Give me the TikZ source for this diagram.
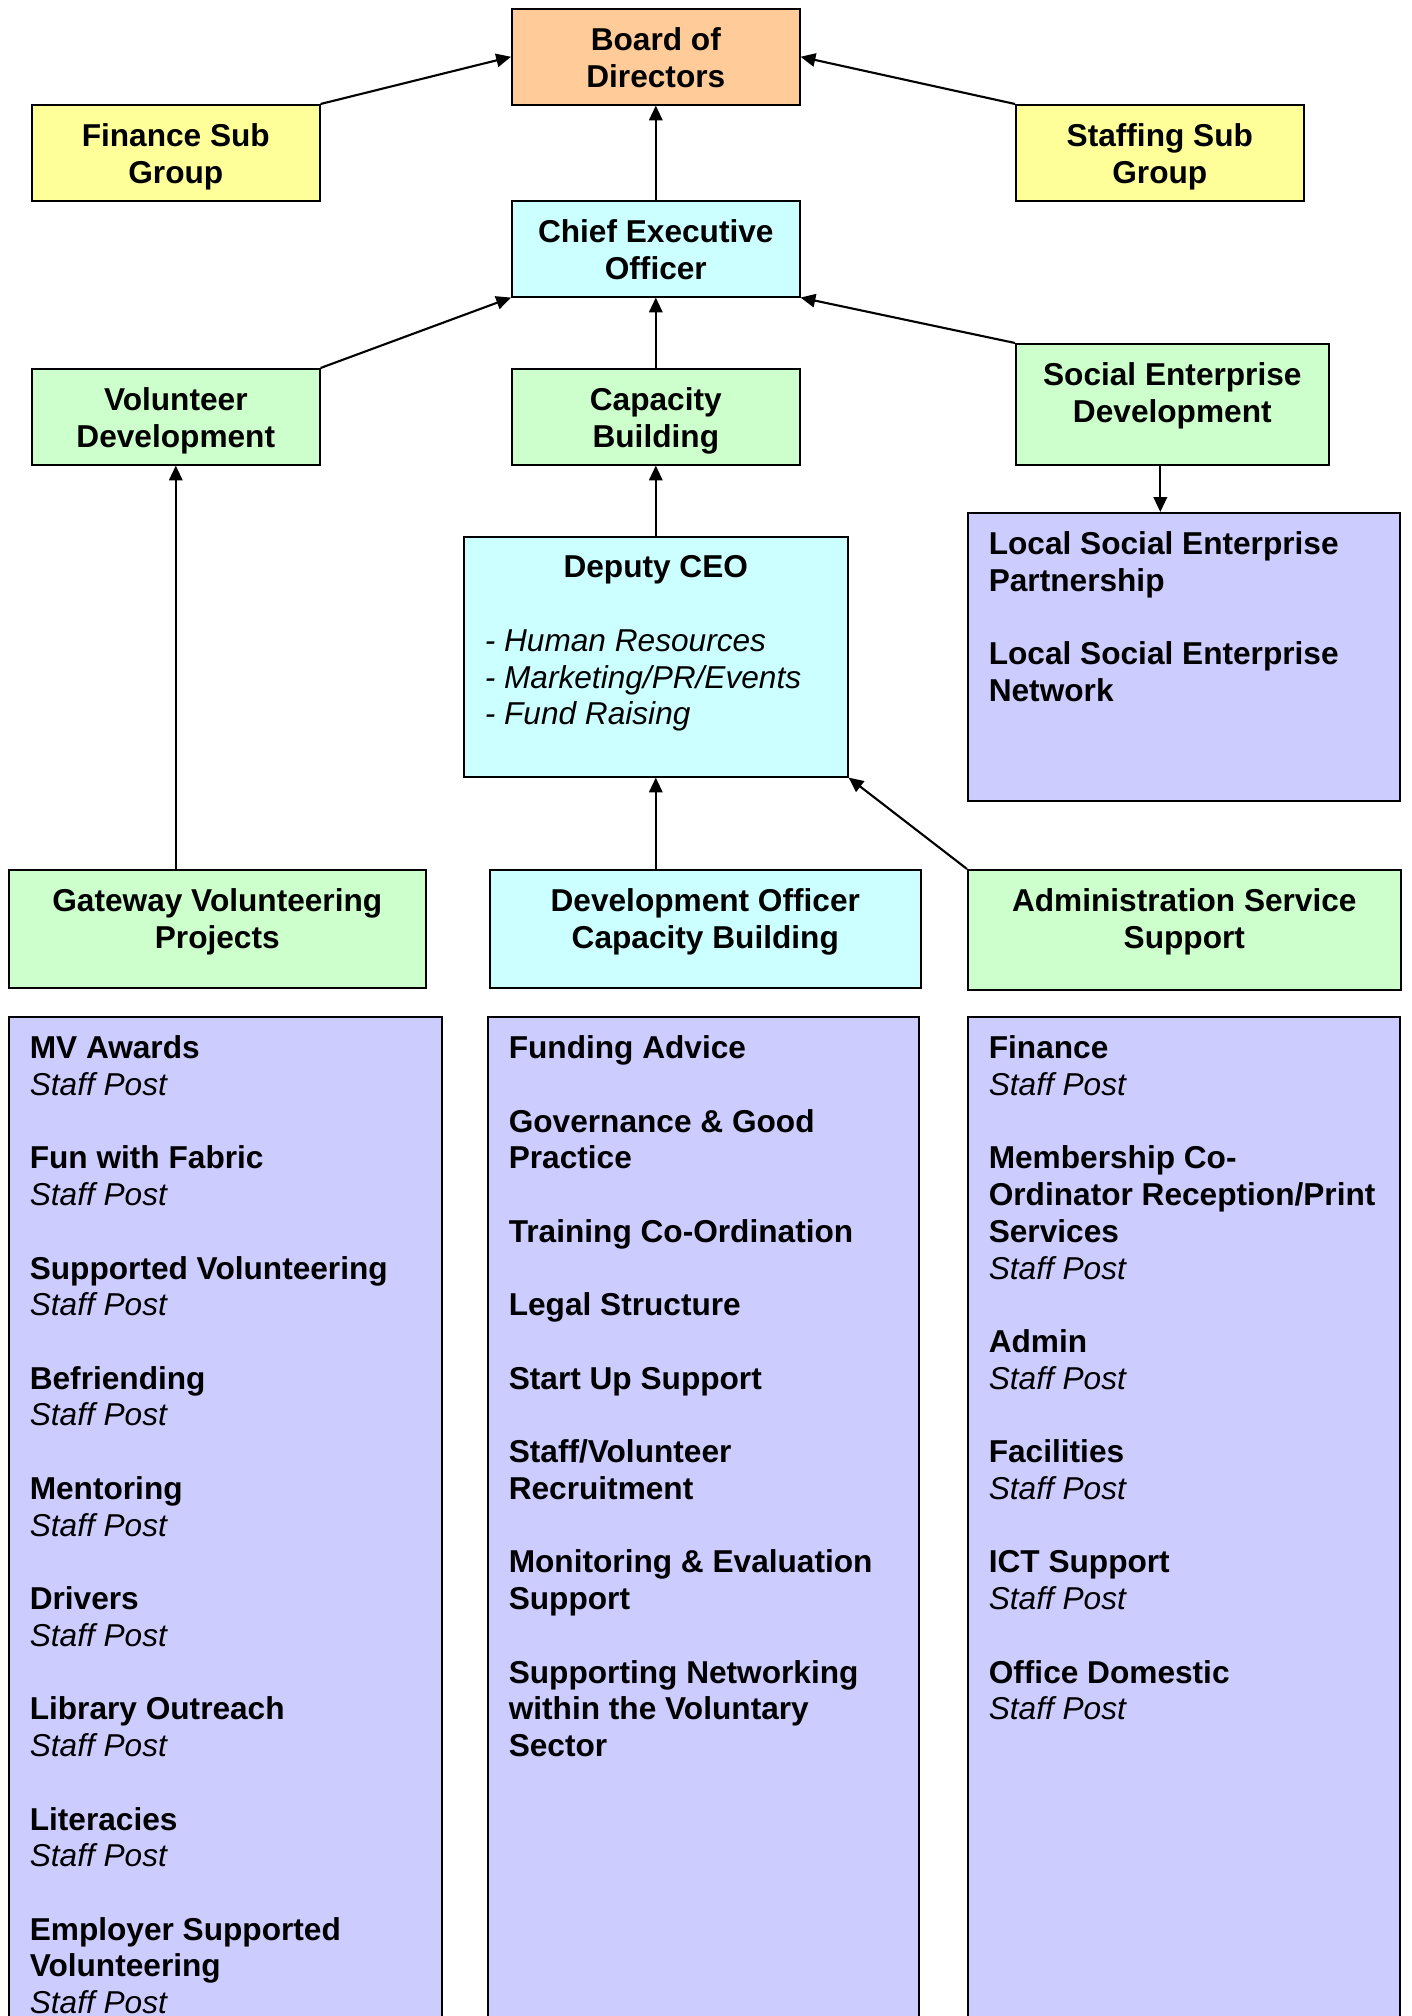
\documentclass[tikz,border=0pt]{standalone}
\usepackage{fontspec}
\setmainfont{Liberation Sans}
\usetikzlibrary{arrows.meta}
\definecolor{boardorange}{HTML}{FFCC99}
\definecolor{subyellow}{HTML}{FFFF99}
\definecolor{execcyan}{HTML}{CCFFFF}
\definecolor{teamgreen}{HTML}{CCFFCC}
\definecolor{postlilac}{HTML}{CCCCFF}
\newcommand{\boxtext}[3]{\parbox[t][#2][t]{#1}{#3}}
\newcommand{\staffpost}{\textmd{\textit{Staff Post}}}

\begin{document}
\begin{tikzpicture}[
  orgbox/.style={draw, line width=0.45pt, anchor=north west, inner xsep=0.21cm, inner ysep=0.19cm,
    font=\fontsize{9}{10.45}\selectfont\bfseries},
  arr/.style={line width=0.6pt, -{Triangle[length=4.2pt,width=3.8pt]}}
]
\useasboundingbox (0,0) rectangle (14.11,-20.16);

% Board and sub groups
\node[orgbox, fill=boardorange] (board) at (5.11,-0.08) {\boxtext{2.46cm}{0.58cm}{\centering Board of\\Directors}};
\node[orgbox, fill=subyellow] (finsub) at (0.31,-1.04) {\boxtext{2.46cm}{0.58cm}{\centering Finance Sub\\Group}};
\node[orgbox, fill=subyellow] (stafsub) at (10.15,-1.04) {\boxtext{2.46cm}{0.58cm}{\centering Staffing Sub\\Group}};
\node[orgbox, fill=execcyan] (ceo) at (5.11,-2.00) {\boxtext{2.46cm}{0.58cm}{\centering Chief Executive\\Officer}};

% Development teams
\node[orgbox, fill=teamgreen] (voldev) at (0.31,-3.68) {\boxtext{2.46cm}{0.58cm}{\centering Volunteer\\Development}};
\node[orgbox, fill=teamgreen] (capbld) at (5.11,-3.68) {\boxtext{2.46cm}{0.58cm}{\centering Capacity\\Building}};
\node[orgbox, fill=teamgreen] (sedev) at (10.15,-3.43) {\boxtext{2.71cm}{0.83cm}{\centering Social Enterprise\\Development}};

\node[orgbox, fill=execcyan] (deputy) at (4.63,-5.36) {\boxtext{3.42cm}{2.02cm}{{\centering Deputy CEO\par}\vspace{\baselineskip}
  {\raggedright\mdseries\itshape - Human Resources\\- Marketing/PR/Events\\- Fund Raising\par}}};
\node[orgbox, fill=postlilac] (lse) at (9.67,-5.12) {\boxtext{3.90cm}{2.50cm}{\raggedright Local Social Enterprise\\Partnership\\[\baselineskip]Local Social Enterprise\\Network}};

% Service level
\node[orgbox, fill=teamgreen] (gateway) at (0.08,-8.69) {\boxtext{3.75cm}{0.80cm}{\centering Gateway Volunteering\\Projects}};
\node[orgbox, fill=execcyan] (devoff) at (4.89,-8.69) {\boxtext{3.89cm}{0.80cm}{\centering Development Officer\\Capacity Building}};
\node[orgbox, fill=teamgreen] (admin) at (9.67,-8.69) {\boxtext{3.91cm}{0.82cm}{\centering Administration Service\\Support}};

% Post lists
\node[orgbox, fill=postlilac] (gvlist) at (0.08,-10.16) {\boxtext{3.91cm}{10.22cm}{\raggedright
  MV Awards\\\staffpost\\[\baselineskip]
  Fun with Fabric\\\staffpost\\[\baselineskip]
  Supported Volunteering\\\staffpost\\[\baselineskip]
  Befriending\\\staffpost\\[\baselineskip]
  Mentoring\\\staffpost\\[\baselineskip]
  Drivers\\\staffpost\\[\baselineskip]
  Library Outreach\\\staffpost\\[\baselineskip]
  Literacies\\\staffpost\\[\baselineskip]
  Employer Supported\\Volunteering\\\staffpost}};
\node[orgbox, fill=postlilac] (cblist) at (4.87,-10.16) {\boxtext{3.89cm}{10.22cm}{\raggedright
  Funding Advice\\[\baselineskip]
  Governance \& Good\\Practice\\[\baselineskip]
  Training Co-Ordination\\[\baselineskip]
  Legal Structure\\[\baselineskip]
  Start Up Support\\[\baselineskip]
  Staff/Volunteer\\Recruitment\\[\baselineskip]
  Monitoring \& Evaluation\\Support\\[\baselineskip]
  Supporting Networking\\within the Voluntary\\Sector}};
\node[orgbox, fill=postlilac] (aslist) at (9.67,-10.16) {\boxtext{3.90cm}{10.22cm}{\raggedright
  Finance\\\staffpost\\[\baselineskip]
  Membership Co-\\Ordinator Reception/Print\\Services\\\staffpost\\[\baselineskip]
  Admin\\\staffpost\\[\baselineskip]
  Facilities\\\staffpost\\[\baselineskip]
  ICT Support\\\staffpost\\[\baselineskip]
  Office Domestic\\\staffpost}};

% Reporting lines
\draw[arr] (finsub.north east) -- (board.west);
\draw[arr] (stafsub.north west) -- (board.east);
\draw[arr] (ceo.north) -- (board.south);
\draw[arr] (voldev.north east) -- (ceo.south west);
\draw[arr] (capbld.north) -- (ceo.south);
\draw[arr] (sedev.north west) -- (ceo.south east);
\draw[arr] (voldev.south |- gateway.north) -- (voldev.south);
\draw[arr] (deputy.north) -- (capbld.south);
\draw[arr] (deputy.south |- devoff.north) -- (deputy.south);
\draw[arr] (admin.north west) -- (deputy.south east);
\draw[arr] ([xshift=-0.12cm]sedev.south) -- ([xshift=-0.12cm]sedev.south |- lse.north);
\end{tikzpicture}
\end{document}
